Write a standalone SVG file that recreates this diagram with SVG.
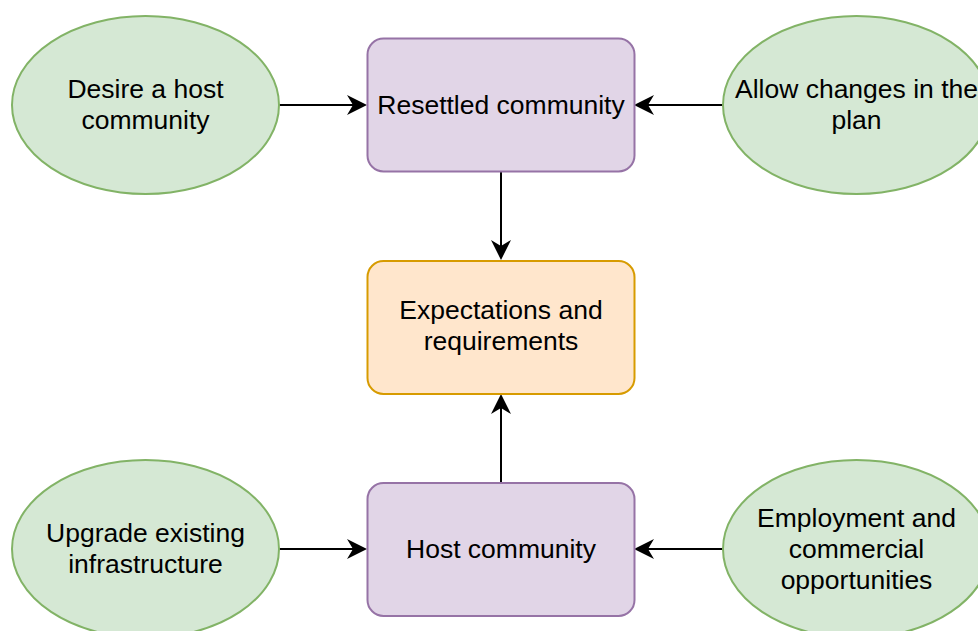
<svg xmlns="http://www.w3.org/2000/svg" width="978" height="631" viewBox="0 0 978 631">
<style>
.g{fill:#d5e8d4;stroke:#82b366;stroke-width:2}
.p{fill:#e1d5e7;stroke:#9673a6;stroke-width:2}
.o{fill:#ffe6cc;stroke:#d79b00;stroke-width:2}
.t{font-family:"Liberation Sans",Arial,Helvetica,sans-serif;font-size:26.5px;fill:#000;text-anchor:middle}
.e{stroke:#000;stroke-width:2;fill:none}
</style>
<defs>
<marker id="a" markerUnits="userSpaceOnUse" viewBox="0 0 20 20" markerWidth="20" markerHeight="20" refX="8" refY="10" orient="auto">
<path d="M20,10 L0,0 L6,10 L0,20 Z" fill="#000"/>
</marker>
</defs>
<rect width="978" height="631" fill="#fff"/>
<g id="connectors">
<path class="e" d="M279,105 L355,105" marker-end="url(#a)"/>
<path class="e" d="M723,105 L646,105" marker-end="url(#a)"/>
<path class="e" d="M501,172 L501,248" marker-end="url(#a)"/>
<path class="e" d="M501,483 L501,406" marker-end="url(#a)"/>
<path class="e" d="M279,549 L355,549" marker-end="url(#a)"/>
<path class="e" d="M723,549 L646,549" marker-end="url(#a)"/>
</g>
<g id="desire">
<ellipse class="g" cx="145.5" cy="105" rx="133.5" ry="89"/>
<text class="t" x="145.5" y="98">Desire a host</text>
<text class="t" x="145.5" y="129">community</text>
</g>
<g id="allow">
<ellipse class="g" cx="856.5" cy="105" rx="133.5" ry="89"/>
<text class="t" x="856.5" y="98">Allow changes in the</text>
<text class="t" x="856.5" y="129">plan</text>
</g>
<g id="resettled">
<rect class="p" x="367.5" y="38.5" width="267" height="133" rx="16"/>
<text class="t" x="501" y="114">Resettled community</text>
</g>
<g id="expectations">
<rect class="o" x="367.5" y="261" width="267" height="133" rx="16"/>
<text class="t" x="501" y="319">Expectations and</text>
<text class="t" x="501" y="350">requirements</text>
</g>
<g id="host">
<rect class="p" x="367.5" y="483" width="267" height="133" rx="16"/>
<text class="t" x="501" y="558">Host community</text>
</g>
<g id="upgrade">
<ellipse class="g" cx="145.5" cy="549" rx="133.5" ry="89"/>
<text class="t" x="145.5" y="542">Upgrade existing</text>
<text class="t" x="145.5" y="573">infrastructure</text>
</g>
<g id="employment">
<ellipse class="g" cx="856.5" cy="549" rx="133.5" ry="89"/>
<text class="t" x="856.5" y="527">Employment and</text>
<text class="t" x="856.5" y="558">commercial</text>
<text class="t" x="856.5" y="589">opportunities</text>
</g>
</svg>
